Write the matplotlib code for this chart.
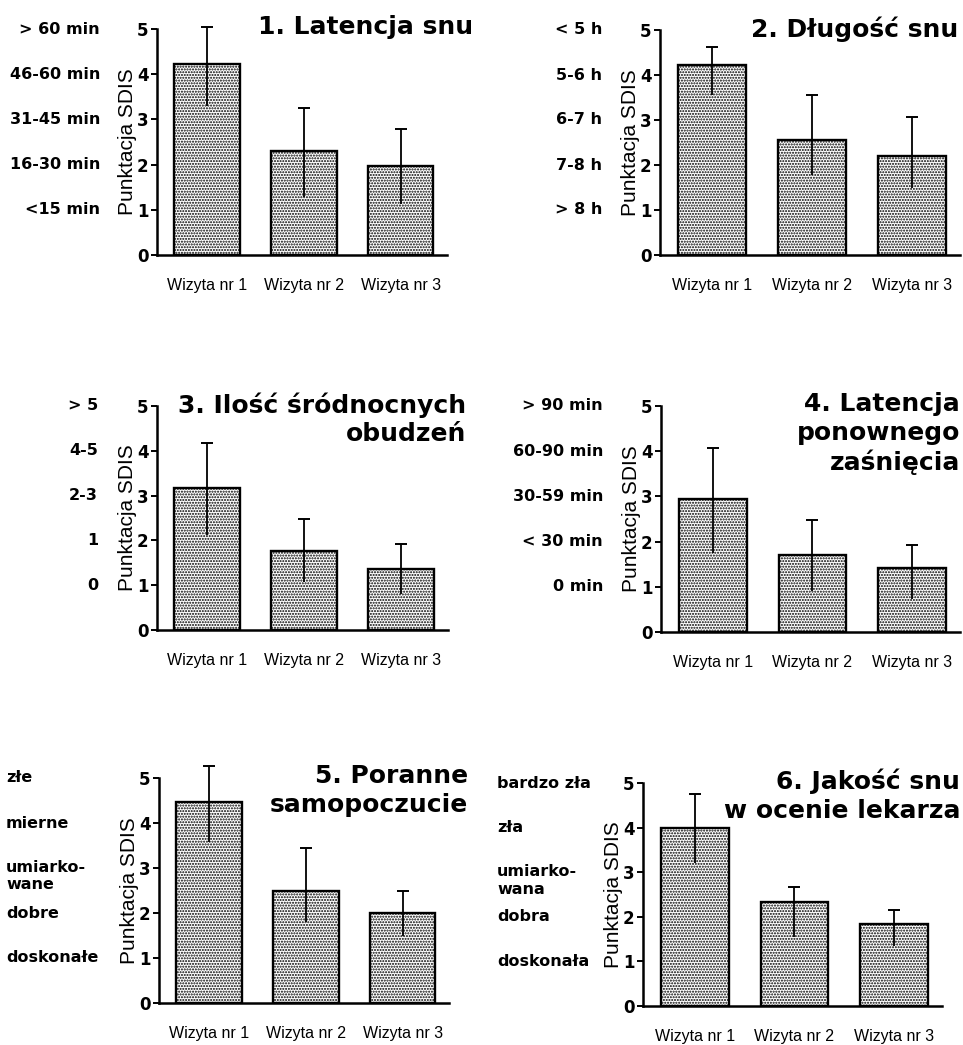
import matplotlib
matplotlib.use("Agg")
import matplotlib.pyplot as plt
import numpy as np

plt.rcParams['font.family'] = ['Liberation Sans', 'DejaVu Sans']
plt.rcParams['hatch.linewidth'] = 1.0
plt.rcParams['hatch.color'] = '#222222'

visits = ["Wizyta nr 1", "Wizyta nr 2", "Wizyta nr 3"]

titles = [
    "1. Latencja snu",
    "2. Długość snu",
    "3. Ilość śródnocnych\nobudzeń",
    "4. Latencja\nponownego\nzaśnięcia",
    "5. Poranne\nsamopoczucie",
    "6. Jakość snu\nw ocenie lekarza",
]

# category labels for score levels 5,4,3,2,1
cat1 = ["> 60 min", "46-60 min", "31-45 min", "16-30 min", "<15 min"]
cat2 = ["< 5 h", "5-6 h", "6-7 h", "7-8 h", "> 8 h"]
cat3 = ["> 5", "4-5", "2-3", "1", "0"]
cat4 = ["> 90 min", "60-90 min", "30-59 min", "< 30 min", "0 min"]
cat5 = ["złe", "mierne", "umiarko-\nwane", "dobre", "doskonałe"]
cat6 = ["bardzo zła", "zła", "umiarko-\nwana", "dobra", "doskonała"]
levels = [5, 4, 3, 2, 1]

# means and error-bar ends
mean1 = [4.23, 2.29, 1.98]
hi1 = [5.05, 3.26, 2.78]
lo1 = [3.30, 1.29, 1.13]

mean2 = [4.22, 2.56, 2.20]
hi2 = [4.63, 3.56, 3.07]
lo2 = [3.56, 1.78, 1.48]

mean3 = [3.16, 1.77, 1.36]
hi3 = [4.17, 2.48, 1.93]
lo3 = [2.11, 1.07, 0.81]

mean4 = [2.95, 1.70, 1.41]
hi4 = [4.07, 2.48, 1.93]
lo4 = [1.74, 0.90, 0.74]

mean5 = [4.47, 2.50, 2.01]
hi5 = [5.26, 3.44, 2.48]
lo5 = [3.57, 1.80, 1.50]

mean6 = [3.99, 2.33, 1.84]
hi6 = [4.76, 2.67, 2.16]
lo6 = [3.21, 1.54, 1.34]

W, H = 963, 1045
fig = plt.figure(figsize=(W / 100, H / 100), dpi=100)

# layout in pixels: axis x-left, y(0), y(5), x-right, category x, category ha, title right x
layout = [
    (157, 255, 29, 447, 100, 'right', 473),
    (660, 255, 30, 960, 602, 'right', 958),
    (157, 630, 406, 448, 98, 'right', 466),
    (661, 632, 406, 960, 603, 'right', 960),
    (159, 1003, 778, 449, 6, 'left', 468),
    (643, 1006, 783, 942, 497, 'left', 960),
]

panels = [
    (mean1, hi1, lo1, cat1),
    (mean2, hi2, lo2, cat2),
    (mean3, hi3, lo3, cat3),
    (mean4, hi4, lo4, cat4),
    (mean5, hi5, lo5, cat5),
    (mean6, hi6, lo6, cat6),
]

bold_fam = ['DejaVu Sans']

x = np.arange(len(visits))
for i, ((means, his, los, cats), (xl, y0, y5, xr, cx, cha, tx)) in enumerate(zip(panels, layout)):
    ax = fig.add_axes([xl / W, (H - y0) / H, (xr - xl) / W, (y0 - y5) / H])
    means = np.array(means)
    his = np.array(his)
    los = np.array(los)
    ax.bar(x, means, width=0.68, facecolor='white', edgecolor='black',
           linewidth=1.7, hatch='......', zorder=2)
    ax.errorbar(x, means, yerr=[means - los, np.zeros_like(means)], fmt='none',
                ecolor='black', elinewidth=1.3, capsize=0, zorder=3, clip_on=False)
    ax.errorbar(x, means, yerr=[np.zeros_like(means), his - means], fmt='none',
                ecolor='black', elinewidth=1.3, capsize=4.3, capthick=1.4, zorder=3,
                clip_on=False)
    ax.set_xlim(-0.52, 2.48)
    ax.set_ylim(0, 5)
    ax.set_yticks([0, 1, 2, 3, 4, 5])
    ax.set_yticklabels(['0', '1', '2', '3', '4', '5'], fontsize=12,
                       fontweight='bold', family=bold_fam)
    ax.set_xticks(x)
    ax.set_xticklabels(visits, fontsize=11.5)
    ax.tick_params(axis='x', length=0, pad=16.5)
    ax.tick_params(axis='y', length=4, width=1.4, pad=2)
    for s in ['top', 'right']:
        ax.spines[s].set_visible(False)
    for s in ['left', 'bottom']:
        ax.spines[s].set_linewidth(1.8)
    ax.set_ylabel("Punktacja SDIS", fontsize=15, labelpad=0)
    for lev, c in zip(levels, cats):
        multi = '\n' in c
        va = 'top' if multi else 'center'
        yy = lev + 0.18 if multi else lev
        ax.annotate(c, xy=(cx, yy), xycoords=('figure pixels', 'data'),
                    ha=cha, va=va, fontsize=11.5, fontweight='bold',
                    family=bold_fam, linespacing=1.2, annotation_clip=False)
    ax.annotate(titles[i], xy=(tx, H - y5 + 14), xycoords='figure pixels',
                ha='right', va='top', fontsize=18, fontweight='bold',
                family=bold_fam, linespacing=1.25, annotation_clip=False)

fig.savefig("out.png", dpi=100)
